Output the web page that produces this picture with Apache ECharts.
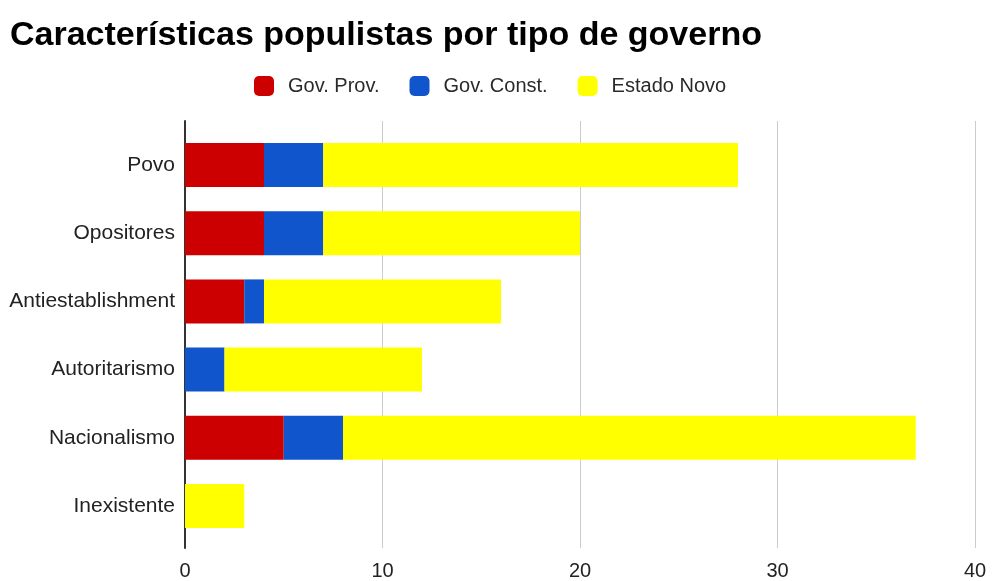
<!DOCTYPE html>
<html>
<head>
<meta charset="utf-8">
<script src="https://cdn.jsdelivr.net/npm/echarts@6/dist/echarts.min.js"></script>
<style>
  html, body { margin: 0; padding: 0; background: #fff; }
  #chart { width: 992px; height: 581px; }
</style>
</head>
<body>
<div id="chart"></div>
<script>
// Categories (top to bottom) and counts per period of government
const categories = ['Povo', 'Opositores', 'Antiestablishment', 'Autoritarismo', 'Nacionalismo', 'Inexistente'];
const govProv   = [4, 4, 3, 0, 5, 0];
const govConst  = [3, 3, 1, 2, 3, 0];
const estadoNovo = [21, 13, 12, 10, 29, 3];
const xTicks = [0, 10, 20, 30, 40];

const FONT = '"Liberation Sans", Arial, sans-serif';
const chart = echarts.init(document.getElementById('chart'), null, { renderer: 'canvas' });

const bar = (name, data, color) => ({
  name, type: 'bar', stack: 'total', data,
  xAxisIndex: 0, yAxisIndex: 0,
  barWidth: 44,
  itemStyle: { color },
  emphasis: { disabled: true }
});

chart.setOption({
  animation: false,
  backgroundColor: '#ffffff',
  title: {
    text: 'Características populistas por tipo de governo',
    left: 5, top: 14,
    textStyle: { fontFamily: FONT, fontWeight: 'bold', fontSize: 34, color: '#000' }
  },
  legend: {
    data: ['Gov. Prov.', 'Gov. Const.', 'Estado Novo'],
    left: 254, top: 76, padding: 0,
    itemWidth: 20, itemHeight: 20, itemGap: 30,
    icon: 'roundRect',
    textStyle: { fontFamily: FONT, fontSize: 20, color: '#2a2a2a', padding: [0, 0, 0, 9] }
  },
  grid: [
    // bars
    { left: 185, right: 17, top: 131, bottom: 41 },
    // axis frame: gridlines, tick labels, baseline
    { left: 185, right: 17, top: 121, bottom: 30 }
  ],
  xAxis: [
    { type: 'value', gridIndex: 0, min: 0, max: 40, interval: 10, show: false },
    {
      type: 'value', gridIndex: 1, min: xTicks[0], max: xTicks[xTicks.length - 1], interval: 10,
      axisLine: { show: false }, axisTick: { show: false },
      axisLabel: { fontFamily: FONT, fontSize: 20, color: '#222', margin: 13 },
      splitLine: { show: true, lineStyle: { color: '#cccccc', width: 1 } }
    }
  ],
  yAxis: [
    {
      type: 'category', gridIndex: 0, data: categories, inverse: true,
      axisLine: { show: false }, axisTick: { show: false },
      axisLabel: { fontFamily: FONT, fontSize: 21, color: '#222', margin: 10 }
    },
    {
      type: 'value', gridIndex: 1, min: 0, max: 1,
      position: 'left',
      axisLine: { show: true, onZero: false, lineStyle: { color: '#333333', width: 2 } },
      axisTick: { show: false }, axisLabel: { show: false }, splitLine: { show: false }
    }
  ],
  series: [
    bar('Gov. Prov.', govProv, '#cc0000'),
    bar('Gov. Const.', govConst, '#1155cc'),
    bar('Estado Novo', estadoNovo, '#ffff00'),
    // empty series so the axis frame grid is rendered
    { type: 'line', xAxisIndex: 1, yAxisIndex: 1, data: [], silent: true }
  ]
});
</script>
</body>
</html>
